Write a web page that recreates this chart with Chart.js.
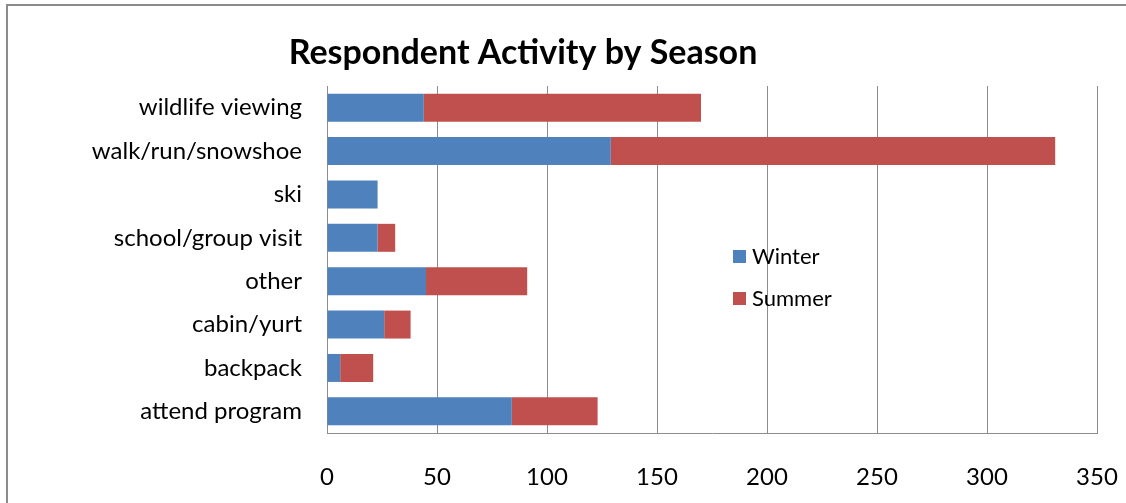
<!DOCTYPE html>
<html>
<head>
    <meta charset="UTF-8">
    <title>Respondent Activity by Season</title>
    <script src="https://cdn.jsdelivr.net/npm/chart.js@4.4.1/dist/chart.umd.min.js"></script>
    <style>
        body { margin: 0; background: #fff; }
        #frame { position: absolute; left: 6px; top: 4px; width: 1120px; height: 499px;
                 border-left: 2px solid #8c8c8c; border-top: 2px solid #8c8c8c; }
        #wrap { position: absolute; left: 0; top: 0; width: 1126px; height: 503px; }
    </style>
</head>
<body>
    <div id="frame"></div>
    <div id="wrap">
        <canvas id="chart" width="1126" height="503"></canvas>
    </div>

    <script>
        // chart data
        var activities = ['wildlife viewing', 'walk/run/snowshoe', 'ski', 'school/group visit',
                          'other', 'cabin/yurt', 'backpack', 'attend program'];
        var winter = [44, 129, 23, 23, 45, 26, 6, 84];
        var summer = [126, 202, 0, 8, 46, 12, 15, 39];
        var xTicks = [0, 50, 100, 150, 200, 250, 300, 350];

        var FONT = 'Lato';

        // title and in-plot legend, placed like the Excel original
        var decorations = {
            id: 'decorations',
            afterDraw: function(chart) {
                var ctx = chart.ctx;
                ctx.save();
                ctx.fillStyle = '#000';
                ctx.font = 'bold 34px ' + FONT;
                ctx.textAlign = 'center';
                ctx.textBaseline = 'middle';
                ctx.fillText('Respondent Activity by Season', 523, 53);

                ctx.font = '22px ' + FONT;
                ctx.textAlign = 'left';
                chart.data.datasets.forEach(function(ds, i) {
                    var y = 256 + i * 42;
                    ctx.fillStyle = ds.backgroundColor;
                    ctx.fillRect(733, y - 6, 13, 13);
                    ctx.fillStyle = '#000';
                    ctx.fillText(ds.label, 752, y + 1);
                });
                ctx.restore();
            }
        };

        var ctx = document.getElementById('chart').getContext('2d');
        var myChart = new Chart(ctx, {
            type: 'bar',
            data: {
                labels: activities,
                datasets: [{
                    label: 'Winter',
                    data: winter,
                    backgroundColor: '#4F81BD'
                }, {
                    label: 'Summer',
                    data: summer,
                    backgroundColor: '#C0504D'
                }]
            },
            options: {
                indexAxis: 'y',
                responsive: false,
                animation: false,
                categoryPercentage: 1,
                barPercentage: 0.645,
                layout: { padding: { top: 86, right: 29, left: 0, bottom: 0 } },
                plugins: {
                    legend: { display: false },
                    title: { display: false },
                    tooltip: { enabled: false }
                },
                scales: {
                    x: {
                        stacked: true,
                        min: 0,
                        max: 350,
                        afterBuildTicks: function(axis) {
                            axis.ticks = xTicks.map(function(v) { return { value: v }; });
                        },
                        afterFit: function(axis) {
                            axis.height = 70;
                            axis.paddingLeft = 0;
                            axis.paddingRight = 0;
                        },
                        grid: { color: '#8c8c8c', lineWidth: 1, drawTicks: false },
                        border: { color: '#8c8c8c', width: 1 },
                        ticks: {
                            padding: 30,
                            color: '#000',
                            font: { family: FONT, size: 24 }
                        }
                    },
                    y: {
                        stacked: true,
                        afterFit: function(axis) {
                            axis.width = 327;
                            axis.paddingTop = 0;
                            axis.paddingBottom = 0;
                        },
                        grid: { display: false, drawTicks: false },
                        border: { color: '#8c8c8c', width: 1 },
                        ticks: {
                            padding: 25,
                            color: '#000',
                            font: { family: FONT, size: 24 }
                        }
                    }
                }
            },
            plugins: [decorations]
        });
    </script>
</body>
</html>
